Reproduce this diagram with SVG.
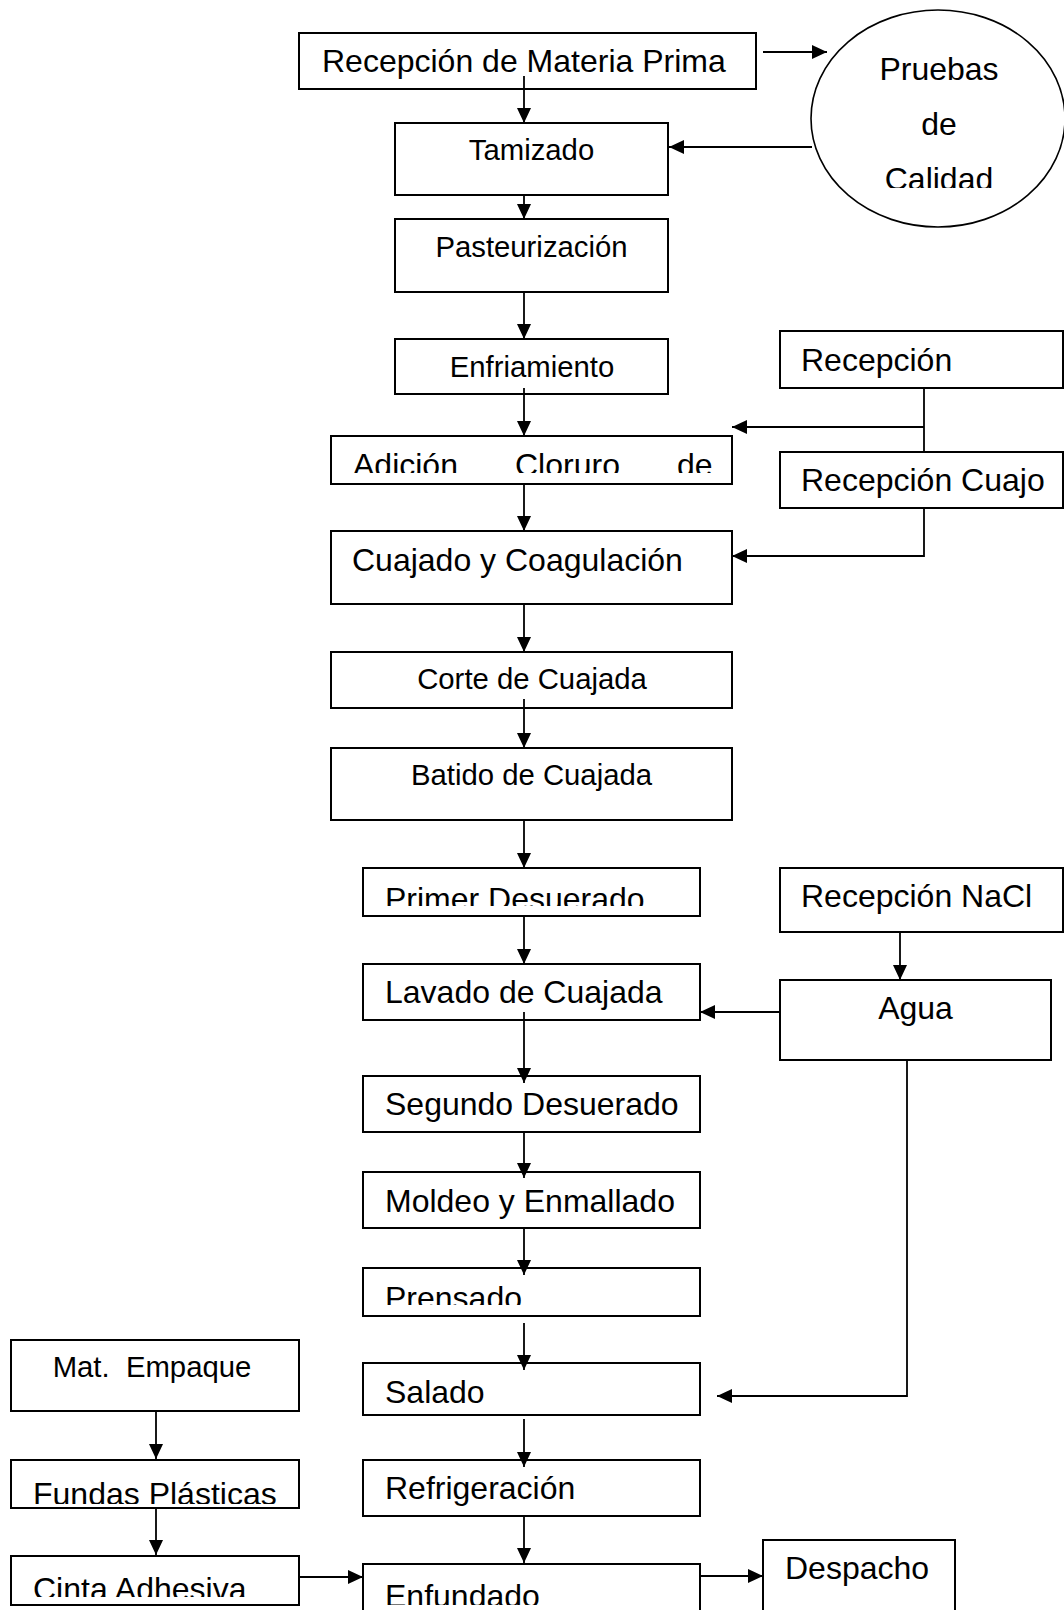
<svg xmlns="http://www.w3.org/2000/svg" width="1064" height="1610" viewBox="0 0 1064 1610">
<style>
.box{fill:#fff;stroke:#000;stroke-width:2}
.ell{fill:#fff;stroke:#000;stroke-width:1.6}
.t{font-family:"Liberation Sans",Arial,sans-serif;font-size:32px;fill:#000}
.s{font-family:"Liberation Sans",Arial,sans-serif;font-size:29.3px;fill:#000}
.c{text-anchor:middle}
.ln{fill:none;stroke:#000;stroke-width:1.8;marker-end:url(#ah)}
.pl{fill:none;stroke:#000;stroke-width:1.8}
</style>
<defs>
<marker id="ah" markerUnits="userSpaceOnUse" markerWidth="16" markerHeight="14" refX="15" refY="7" orient="auto">
<path d="M0,0 L15,7 L0,14 z" fill="#000"/>
</marker>
<clipPath id="cCal"><rect x="800" y="0" width="264" height="188"/></clipPath>
<clipPath id="cAdi"><rect x="331" y="436" width="401" height="37"/></clipPath>
<clipPath id="cPri"><rect x="363" y="868" width="337" height="38"/></clipPath>
<clipPath id="cPre"><rect x="363" y="1268" width="337" height="37"/></clipPath>
<clipPath id="cFun"><rect x="11" y="1460" width="288" height="44"/></clipPath>
<clipPath id="cCin"><rect x="11" y="1556" width="288" height="41"/></clipPath>
<clipPath id="cEnf"><rect x="363" y="1564" width="337" height="41"/></clipPath>
</defs>
<rect width="1064" height="1610" fill="#fff"/>

<g id="recepcion-materia-prima"><rect class="box" x="299" y="33" width="457" height="56"/><text class="t" x="322" y="72">Recepción de Materia Prima</text></g>
<g id="pruebas-calidad"><ellipse class="ell" cx="938" cy="118.5" rx="127" ry="108.5"/><text class="t c" x="939" y="80">Pruebas</text><text class="t c" x="939" y="135">de</text><text class="t c" x="939" y="190" clip-path="url(#cCal)">Calidad</text></g>
<g id="tamizado"><rect class="box" x="395" y="123" width="273" height="72"/><text class="s c" x="531.5" y="160">Tamizado</text></g>
<g id="pasteurizacion"><rect class="box" x="395" y="219" width="273" height="73"/><text class="s c" x="531.5" y="257">Pasteurización</text></g>
<g id="enfriamiento"><rect class="box" x="395" y="339" width="273" height="55"/><text class="s c" x="532" y="377">Enfriamiento</text></g>
<g id="adicion-cloruro"><rect class="box" x="331" y="436" width="401" height="48"/><g clip-path="url(#cAdi)"><text class="t" x="353" y="476">Adición</text><text class="t" x="515" y="476">Cloruro</text><text class="t" x="677" y="476">de</text></g></g>
<g id="cuajado-coagulacion"><rect class="box" x="331" y="531" width="401" height="73"/><text class="t" x="352" y="571">Cuajado y Coagulación</text></g>
<g id="corte-cuajada"><rect class="box" x="331" y="652" width="401" height="56"/><text class="s c" x="532" y="689">Corte de Cuajada</text></g>
<g id="batido-cuajada"><rect class="box" x="331" y="748" width="401" height="72"/><text class="s c" x="531.5" y="785">Batido de Cuajada</text></g>
<g id="primer-desuerado"><rect class="box" x="363" y="868" width="337" height="48"/><text class="t" x="385" y="910" clip-path="url(#cPri)">Primer Desuerado</text></g>
<g id="lavado-cuajada"><rect class="box" x="363" y="964" width="337" height="56"/><text class="t" x="385" y="1003">Lavado de Cuajada</text></g>
<g id="segundo-desuerado"><rect class="box" x="363" y="1076" width="337" height="56"/><text class="t" x="385" y="1115">Segundo Desuerado</text></g>
<g id="moldeo-enmallado"><rect class="box" x="363" y="1172" width="337" height="56"/><text class="t" x="385" y="1212">Moldeo y Enmallado</text></g>
<g id="prensado"><rect class="box" x="363" y="1268" width="337" height="48"/><text class="t" x="385" y="1309" clip-path="url(#cPre)">Prensado</text></g>
<g id="salado"><rect class="box" x="363" y="1363" width="337" height="52"/><text class="t" x="385" y="1403">Salado</text></g>
<g id="refrigeracion"><rect class="box" x="363" y="1460" width="337" height="56"/><text class="t" x="385" y="1499">Refrigeración</text></g>
<g id="enfundado"><rect class="box" x="363" y="1564" width="337" height="60"/><text class="t" x="385" y="1607" clip-path="url(#cEnf)">Enfundado</text></g>
<g id="recepcion"><rect class="box" x="780" y="331" width="283" height="57"/><text class="t" x="801" y="371">Recepción</text></g>
<g id="recepcion-cuajo"><rect class="box" x="780" y="452" width="283" height="56"/><text class="t" x="801" y="491">Recepción Cuajo</text></g>
<g id="recepcion-nacl"><rect class="box" x="780" y="868" width="283" height="64"/><text class="t" x="801" y="907">Recepción NaCl</text></g>
<g id="agua"><rect class="box" x="780" y="980" width="271" height="80"/><text class="t c" x="915.5" y="1019">Agua</text></g>
<g id="mat-empaque"><rect class="box" x="11" y="1340" width="288" height="71"/><text class="s c" x="152" y="1377" xml:space="preserve">Mat.  Empaque</text></g>
<g id="fundas-plasticas"><rect class="box" x="11" y="1460" width="288" height="48"/><text class="t" x="33" y="1505" clip-path="url(#cFun)">Fundas Plásticas</text></g>
<g id="cinta-adhesiva"><rect class="box" x="11" y="1556" width="288" height="49"/><text class="t" x="33" y="1600" clip-path="url(#cCin)">Cinta Adhesiva</text></g>
<g id="despacho"><rect class="box" x="763" y="1540" width="192" height="80"/><text class="t" x="785" y="1579">Despacho</text></g>

<g id="connectors">
<path class="ln" d="M524,76 L524,123"/>
<path class="ln" d="M763,52 L827,52"/>
<path class="ln" d="M812,147 L669,147"/>
<path class="ln" d="M524,195 L524,219"/>
<path class="ln" d="M524,292 L524,339"/>
<path class="ln" d="M524,388 L524,436"/>
<path class="pl" d="M924,388 L924,452"/>
<path class="ln" d="M924,427 L732,427"/>
<path class="ln" d="M924,508 L924,556 L732,556"/>
<path class="ln" d="M524,484 L524,531"/>
<path class="ln" d="M524,604 L524,652"/>
<path class="ln" d="M524,699 L524,748"/>
<path class="ln" d="M524,820 L524,868"/>
<path class="ln" d="M524,916 L524,964"/>
<path class="ln" d="M900,932 L900,980"/>
<path class="ln" d="M780,1012 L700,1012"/>
<path class="ln" d="M524,1012 L524,1083"/>
<path class="ln" d="M524,1132 L524,1178"/>
<path class="ln" d="M524,1228 L524,1275"/>
<path class="ln" d="M524,1323 L524,1370"/>
<path class="ln" d="M907,1060 L907,1396 L717,1396"/>
<path class="ln" d="M524,1419 L524,1467"/>
<path class="ln" d="M524,1516 L524,1563"/>
<path class="ln" d="M156,1411 L156,1459"/>
<path class="ln" d="M156,1508 L156,1555"/>
<path class="ln" d="M299,1577 L363,1577"/>
<path class="ln" d="M700,1576 L763,1576"/>
</g>
</svg>
